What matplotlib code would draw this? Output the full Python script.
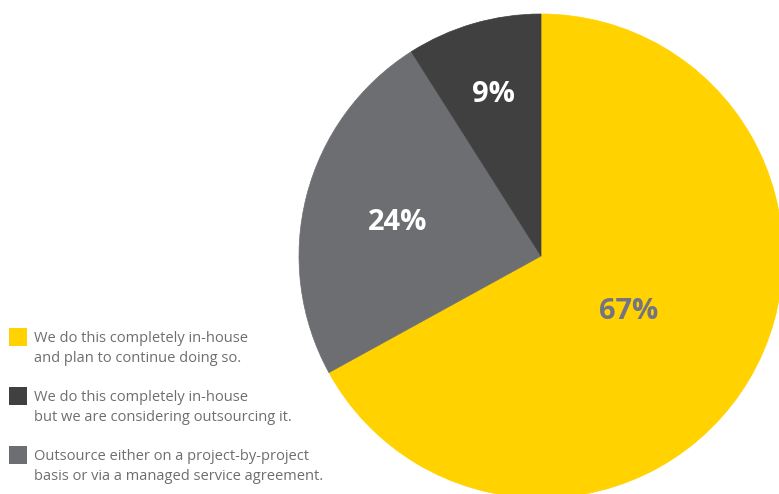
import numpy as np
import matplotlib.pyplot as plt
from matplotlib.patches import Rectangle

# Data
labels = ['We do this completely in-house\nand plan to continue doing so.',
          'Outsource either on a project-by-project\nbasis or via a managed service agreement.',
          'We do this completely in-house\nbut we are considering outsourcing it.']
values = [67, 24, 9]
colors = ['#FFD200', '#6D6E71', '#404041']
label_colors = ['#747480', 'white', 'white']
label_radius = [0.42, 0.61, 0.71]
legend_order = [0, 2, 1]

plt.rcParams['font.family'] = ['Open Sans', 'DejaVu Sans']

fig = plt.figure(figsize=(7.79, 4.94), dpi=100)
W, H = 779, 494
cx, cy, r = 541, 256, 242
ax = fig.add_axes([(cx - r) / W, (H - cy - r) / H, 2 * r / W, 2 * r / H])

wedges, _ = ax.pie(values, colors=colors, startangle=90, counterclock=False,
                   radius=1, wedgeprops=dict(linewidth=0.5))
ax.set_xlim(-1, 1)
ax.set_ylim(-1, 1)
ax.axis('off')
for w in wedges:
    w.set_clip_on(False)
    w.set_edgecolor(w.get_facecolor())

# percentage labels in each wedge
for i, w in enumerate(wedges):
    mid = np.deg2rad((w.theta1 + w.theta2) / 2)
    ax.text(label_radius[i] * np.cos(mid), label_radius[i] * np.sin(mid),
            f'{values[i]}%', ha='center', va='center_baseline', fontsize=21,
            fontweight='bold', color=label_colors[i])

# legend drawn by hand: square aligned with first line of text
for k, i in enumerate(legend_order):
    top = 328 + k * 59
    fig.patches.append(Rectangle((9 / W, 1 - (top + 18) / H), 18 / W, 18 / H,
                                 transform=fig.transFigure, facecolor=colors[i],
                                 edgecolor='none'))
    fig.text(34 / W, 1 - (top + 3) / H, labels[i], ha='left', va='top',
             fontsize=10.5, color='#6D6E71', linespacing=1.45)

fig.savefig('out.png', dpi=100)
